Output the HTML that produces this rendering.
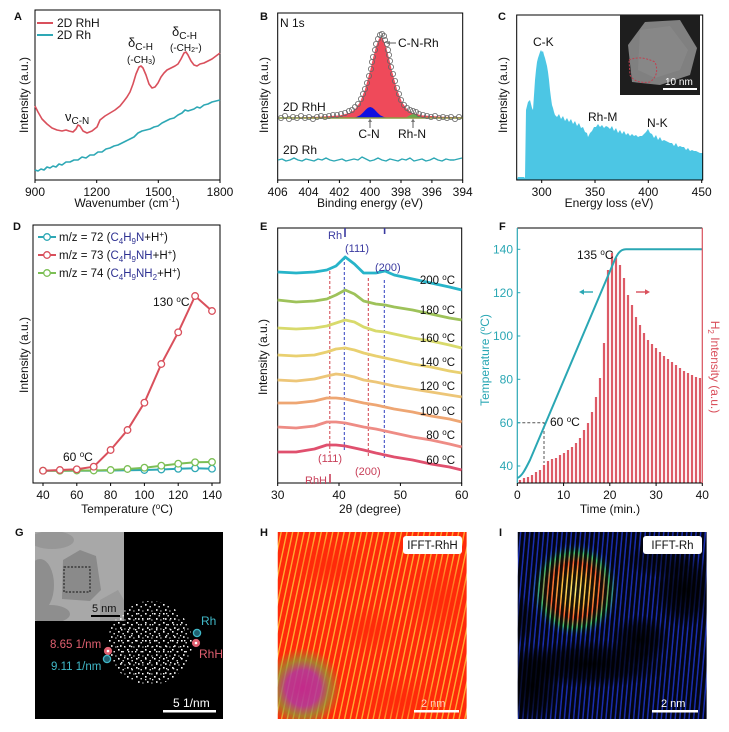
<!DOCTYPE html>
<html><head><meta charset="utf-8">
<style>
html,body{margin:0;padding:0;background:#fff;}
svg{display:block;}
text{font-family:"Liberation Sans",Arial,sans-serif;fill:#111;}
</style></head><body>
<svg width="729" height="732" viewBox="0 0 729 732" xmlns="http://www.w3.org/2000/svg">
<defs>
  <clipPath id="clipG"><rect x="35" y="532" width="89" height="89"/></clipPath>
  <clipPath id="clipH"><rect x="277.7" y="532" width="189" height="187"/></clipPath>
  <clipPath id="clipI"><rect x="517.7" y="532" width="189" height="187"/></clipPath>
  <pattern id="dots" patternUnits="userSpaceOnUse" width="9" height="9">
    <rect x="1" y="1" width="1.6" height="1.6" fill="#fff"/>
    <rect x="5.5" y="3" width="1.4" height="1.4" fill="#eee"/>
    <rect x="3" y="6.2" width="1.6" height="1.6" fill="#fff"/>
    <rect x="7.3" y="7.4" width="1.2" height="1.2" fill="#ddd"/>
  </pattern>
  <pattern id="dots2" patternUnits="userSpaceOnUse" width="7" height="11">
    <rect x="2" y="2" width="1.4" height="1.4" fill="#fff"/>
    <rect x="5" y="8" width="1.3" height="1.3" fill="#eee"/>
  </pattern>
  <pattern id="hstripe" patternUnits="userSpaceOnUse" width="5.6" height="60" patternTransform="rotate(12)">
    <rect x="0" y="0" width="4.2" height="60" fill="#ff2a0a"/>
  </pattern>
  <pattern id="istripe" patternUnits="userSpaceOnUse" width="4.6" height="60" patternTransform="rotate(5)">
    <rect x="0" y="0" width="3.1" height="60" fill="#000" fill-opacity="0.9"/>
  </pattern>
  <radialGradient id="redfade"><stop offset="0" stop-color="#ff2a0a" stop-opacity="0.7"/><stop offset="1" stop-color="#ff2a0a" stop-opacity="0"/></radialGradient>
  <radialGradient id="olive"><stop offset="0" stop-color="#c02a90" stop-opacity="0.95"/><stop offset="0.45" stop-color="#b03aa0" stop-opacity="0.85"/><stop offset="0.7" stop-color="#8a9a38" stop-opacity="0.7"/><stop offset="1" stop-color="#8a9a38" stop-opacity="0"/></radialGradient>
  <radialGradient id="blob"><stop offset="0" stop-color="#fff27a"/><stop offset="0.3" stop-color="#ffc040"/><stop offset="0.55" stop-color="#ff6030"/><stop offset="0.75" stop-color="#40c070"/><stop offset="0.9" stop-color="#2a50d0" stop-opacity="0.6"/><stop offset="1" stop-color="#1830b8" stop-opacity="0"/></radialGradient>
  <radialGradient id="dk"><stop offset="0" stop-color="#000" stop-opacity="0.92"/><stop offset="0.6" stop-color="#000" stop-opacity="0.6"/><stop offset="1" stop-color="#000" stop-opacity="0"/></radialGradient>
</defs>

<!-- ================= PANEL A ================= -->
<text x="14" y="20" font-size="11" font-weight="bold">A</text>
<rect x="35" y="10" width="185" height="170" fill="none" stroke="#000" stroke-width="1"/>
<g stroke="#000" stroke-width="1">
  <line x1="35" y1="180" x2="35" y2="183"/><line x1="96.7" y1="180" x2="96.7" y2="183"/>
  <line x1="158.3" y1="180" x2="158.3" y2="183"/><line x1="220" y1="180" x2="220" y2="183"/>
</g>
<g font-size="12" text-anchor="middle">
  <text x="35" y="196">900</text><text x="96.7" y="196">1200</text><text x="158.3" y="196">1500</text><text x="220" y="196">1800</text>
</g>
<text x="127" y="207" font-size="12" text-anchor="middle">Wavenumber (cm<tspan font-size="8" dy="-5">-1</tspan><tspan dy="5">)</tspan></text>
<text transform="translate(28,95) rotate(-90)" font-size="12" text-anchor="middle">Intensity (a.u.)</text>
<polyline fill="none" stroke="#2ea8b5" stroke-width="1.6" stroke-linejoin="round" points="35,170 38,171 41,169 44,170 47,167 50,168 53,166 56,167 59,164 62,165 66,162 70,162 74,160 78,160 82,157 86,158 90,155 94,155 98,152 102,152 106,149 110,148 114,146 118,145 122,143 126,141 130,139 134,137 138,133 142,131 146,130 150,129 154,127 158,126 162,123 166,121 170,119 174,118 178,115 182,113 185,110 188,111 191,110 194,109 197,107 200,108 204,105 208,104 212,102 216,101 220,100"/>
<polyline fill="none" stroke="#d9505c" stroke-width="1.6" stroke-linejoin="round" points="35,106 38,112 42,119 47,124 52,128 57,130 62,131 66,130 69,131 73,132 76,129 78,125 80,126 83,131 87,133 92,131 97,127 100,120 105,116 110,113 115,110 120,106 124,101 127,97 130,92 133,84 136,74 139,67 141,66 143,68 146,75 149,84 152,88 155,87 158,83 161,77 164,73 167,70 171,68 175,66 178,64 181,59 184,53 186,52 188,55 191,61 194,65 197,66 200,64 204,63 208,61 212,59 216,56 220,53"/>
<line x1="37" y1="23" x2="53" y2="23" stroke="#d9505c" stroke-width="2"/>
<text x="57" y="27" font-size="12">2D RhH</text>
<line x1="37" y1="35" x2="53" y2="35" stroke="#2ea8b5" stroke-width="2"/>
<text x="57" y="39" font-size="12">2D Rh</text>
<text x="65" y="121" font-size="13">ν<tspan font-size="10" dy="3">C-N</tspan></text>
<text x="128" y="47" font-size="13">δ<tspan font-size="10" dy="3">C-H</tspan></text>
<text x="127" y="63" font-size="10">(-CH<tspan font-size="7" dy="1">3</tspan><tspan dy="-1">)</tspan></text>
<text x="172" y="36" font-size="13">δ<tspan font-size="10" dy="3">C-H</tspan></text>
<text x="170" y="51" font-size="10">(-CH<tspan font-size="7" dy="1">2</tspan><tspan dy="-1">-)</tspan></text>

<!-- ================= PANEL B ================= -->
<text x="260" y="20" font-size="11" font-weight="bold">B</text>
<rect x="277.7" y="13" width="185" height="167" fill="none" stroke="#000" stroke-width="1"/>
<g stroke="#000" stroke-width="1">
  <line x1="277.7" y1="180" x2="277.7" y2="183"/><line x1="308.5" y1="180" x2="308.5" y2="183"/>
  <line x1="339.4" y1="180" x2="339.4" y2="183"/><line x1="370.2" y1="180" x2="370.2" y2="183"/>
  <line x1="401" y1="180" x2="401" y2="183"/><line x1="431.9" y1="180" x2="431.9" y2="183"/>
  <line x1="462.7" y1="180" x2="462.7" y2="183"/>
</g>
<g font-size="12" text-anchor="middle">
  <text x="277.7" y="196">406</text><text x="308.5" y="196">404</text><text x="339.4" y="196">402</text>
  <text x="370.2" y="196">400</text><text x="401" y="196">398</text><text x="431.9" y="196">396</text><text x="462.7" y="196">394</text>
</g>
<text x="370" y="207" font-size="12" text-anchor="middle">Binding energy (eV)</text>
<text transform="translate(268,95) rotate(-90)" font-size="12" text-anchor="middle">Intensity (a.u.)</text>
<polygon fill="#ef4a5a" points="277.7,118 278,117.6 300,117.3 320,116.8 340,115.4 350,112.8 355,109.3 360,102.2 365,89.5 370,71 373,58.2 376,46.6 379,38.7 381,37 383,38.7 386,46.6 389,58.2 392,71 397,89.5 402,102.2 407,109.3 412,112.8 422,115.4 442,116.8 462,117.3 462.7,118"/>
<polygon fill="#1010e0" points="350,118 352,117.9 356,117.3 360,115.4 363,112.6 366,109.4 368,107.7 370.2,107 372.4,107.7 374.4,109.4 377.4,112.6 380.4,115.4 384.4,117.3 388.4,117.9 390,118"/>
<polygon fill="#6aa84f" points="403,118 406,117.5 409,115.7 411,114.6 413.4,114 415.8,114.6 417.8,115.7 420.8,117.5 424,118"/>
<line x1="278" y1="118" x2="462.5" y2="118" stroke="#8c9a40" stroke-width="1.6"/>
<g fill="none" stroke="#666" stroke-width="0.8">
<circle cx="281" cy="118" r="2.6"/><circle cx="285" cy="116" r="2.6"/><circle cx="289" cy="119" r="2.6"/><circle cx="293" cy="117" r="2.6"/><circle cx="297" cy="118" r="2.6"/><circle cx="301" cy="116" r="2.6"/><circle cx="305" cy="118" r="2.6"/><circle cx="309" cy="117" r="2.6"/><circle cx="313" cy="119" r="2.6"/><circle cx="317" cy="117" r="2.6"/><circle cx="321" cy="116" r="2.6"/><circle cx="325" cy="117" r="2.6"/><circle cx="329" cy="116" r="2.6"/><circle cx="333" cy="115" r="2.6"/><circle cx="337" cy="115" r="2.6"/><circle cx="341" cy="114" r="2.6"/><circle cx="345" cy="113" r="2.6"/><circle cx="349" cy="111" r="2.6"/><circle cx="352" cy="110" r="2.6"/><circle cx="355" cy="107" r="2.6"/><circle cx="358" cy="104" r="2.6"/><circle cx="361" cy="99" r="2.6"/><circle cx="363" cy="94" r="2.6"/><circle cx="365" cy="89" r="2.6"/><circle cx="367" cy="83" r="2.6"/><circle cx="369" cy="76" r="2.6"/><circle cx="371" cy="69" r="2.6"/><circle cx="372" cy="62" r="2.6"/><circle cx="373" cy="57" r="2.6"/><circle cx="375" cy="50" r="2.6"/><circle cx="376" cy="44" r="2.6"/><circle cx="378" cy="39" r="2.6"/><circle cx="380" cy="35" r="2.6"/><circle cx="382" cy="34" r="2.6"/><circle cx="384" cy="36" r="2.6"/><circle cx="385" cy="40" r="2.6"/><circle cx="387" cy="44" r="2.6"/><circle cx="388" cy="50" r="2.6"/><circle cx="389" cy="55" r="2.6"/><circle cx="390" cy="61" r="2.6"/><circle cx="391" cy="67" r="2.6"/><circle cx="393" cy="74" r="2.6"/><circle cx="395" cy="81" r="2.6"/><circle cx="397" cy="88" r="2.6"/><circle cx="399" cy="94" r="2.6"/><circle cx="401" cy="100" r="2.6"/><circle cx="404" cy="105" r="2.6"/><circle cx="407" cy="108" r="2.6"/><circle cx="410" cy="110" r="2.6"/><circle cx="413" cy="111" r="2.6"/><circle cx="416" cy="112" r="2.6"/><circle cx="419" cy="114" r="2.6"/><circle cx="423" cy="115" r="2.6"/><circle cx="427" cy="116" r="2.6"/><circle cx="431" cy="117" r="2.6"/><circle cx="435" cy="116" r="2.6"/><circle cx="439" cy="118" r="2.6"/><circle cx="443" cy="117" r="2.6"/><circle cx="447" cy="118" r="2.6"/><circle cx="451" cy="117" r="2.6"/><circle cx="455" cy="119" r="2.6"/><circle cx="459" cy="117" r="2.6"/>
</g>
<polyline fill="none" stroke="#2ea8b5" stroke-width="1.4" stroke-linejoin="round" points="278,160 282,159 286,161 290,160 294,158 298,160 302,161 306,159 310,160 314,161 318,159 322,160 326,158 330,160 334,161 338,160 342,159 346,161 350,160 354,159 358,160 362,157 366,159 370,161 374,160 378,158 382,160 386,161 390,159 394,160 398,161 402,159 406,160 410,158 414,161 418,160 422,159 426,161 430,160 434,158 438,160 442,161 446,159 450,160 454,160 458,159 462,158"/>
<text x="280" y="27" font-size="12">N 1s</text>
<text x="283" y="111" font-size="12">2D RhH</text>
<text x="283" y="154" font-size="12">2D Rh</text>
<line x1="389" y1="43" x2="396" y2="43" stroke="#777" stroke-width="1.2"/><polygon points="386,43 390,41 390,45" fill="#777"/>
<text x="398" y="47" font-size="12">C-N-Rh</text>
<line x1="370" y1="121" x2="370" y2="128" stroke="#777" stroke-width="1.2"/><polygon points="370,118.5 368,122 372,122" fill="#777"/>
<text x="369" y="138" font-size="12" text-anchor="middle">C-N</text>
<line x1="413" y1="121" x2="413" y2="128" stroke="#777" stroke-width="1.2"/><polygon points="413,118.5 411,122 415,122" fill="#777"/>
<text x="412" y="138" font-size="12" text-anchor="middle">Rh-N</text>

<!-- ================= PANEL C ================= -->
<text x="498" y="20" font-size="11" font-weight="bold">C</text>
<polygon fill="#4cc6e4" points="516.7,180 518,177 524,177 525,178 526,110 528,102 530,100 531,104 532,108 533,110 534,95 535,80 536,70 537,62 538,58 539,55 540,52 541,50 542,52 543,51 544,55 545,58 546,62 547,66 548,72 549,80 550,90 551,98 552,105 553,108 554,112 555,115 557,117 559,114 561,119 563,116 565,121 567,118 569,122 571,119 573,124 575,121 577,126 579,123 581,128 583,127 585,132 587,133 588,137 590,133 592,131 594,127 596,127 598,124 600,127 602,125 604,128 606,126 608,127 610,129 612,126 614,131 616,128 618,133 620,130 622,134 624,131 626,135 628,133 630,136 632,134 634,136 636,135 638,137 640,136 642,136 644,134 646,132 648,129 650,133 652,134 654,138 656,135 658,140 660,137 662,141 664,140 666,141 668,142 670,143 672,143 674,146 676,143 678,147 680,146 682,147 684,147 686,150 688,148 690,151 692,150 694,151 696,151 698,152 700,153 702.7,153 702.7,180"/>
<rect x="516.7" y="15" width="186" height="165" fill="none" stroke="#000" stroke-width="1"/>
<g stroke="#000" stroke-width="1">
  <line x1="541.7" y1="180" x2="541.7" y2="183"/><line x1="595" y1="180" x2="595" y2="183"/>
  <line x1="648.3" y1="180" x2="648.3" y2="183"/><line x1="701.7" y1="180" x2="701.7" y2="183"/>
</g>
<g font-size="12" text-anchor="middle">
  <text x="541.7" y="196">300</text><text x="595" y="196">350</text><text x="648.3" y="196">400</text><text x="701.7" y="196">450</text>
</g>
<text x="609" y="207" font-size="12" text-anchor="middle">Energy loss (eV)</text>
<text transform="translate(507,95) rotate(-90)" font-size="12" text-anchor="middle">Intensity (a.u.)</text>
<text x="533" y="46" font-size="12">C-K</text>
<text x="588" y="121" font-size="12">Rh-M</text>
<text x="647" y="127" font-size="12">N-K</text>
<rect x="620" y="15" width="80" height="80" fill="#1e1e1e"/>
<polygon points="628,45 645,22 680,20 697,48 690,75 660,85 632,82" fill="#808080"/>
<polygon points="640,30 670,26 688,50 680,70 655,78 638,70" fill="#8c8c8c" opacity="0.6"/>
<path d="M629,60 Q640,55 655,62 Q660,75 650,82 Q635,84 630,75 Z" fill="none" stroke="#c04050" stroke-width="1" stroke-dasharray="2,1.5"/>
<text x="665" y="85" font-size="10" style="fill:#fff">10 nm</text>
<rect x="663" y="88" width="34" height="2" fill="#fff"/>

<!-- ================= PANEL D ================= -->
<text x="13" y="230" font-size="11" font-weight="bold">D</text>
<rect x="33" y="225" width="187" height="258" fill="none" stroke="#000" stroke-width="1"/>
<g stroke="#000" stroke-width="1">
  <line x1="43" y1="483" x2="43" y2="486"/><line x1="76.8" y1="483" x2="76.8" y2="486"/><line x1="110.6" y1="483" x2="110.6" y2="486"/>
  <line x1="144.4" y1="483" x2="144.4" y2="486"/><line x1="178.2" y1="483" x2="178.2" y2="486"/><line x1="212" y1="483" x2="212" y2="486"/>
</g>
<g font-size="12" text-anchor="middle">
  <text x="43" y="499">40</text><text x="76.8" y="499">60</text><text x="110.6" y="499">80</text>
  <text x="144.4" y="499">100</text><text x="178.2" y="499">120</text><text x="212" y="499">140</text>
</g>
<text x="127" y="513" font-size="12" text-anchor="middle">Temperature (<tspan font-size="8" dy="-4">o</tspan><tspan dy="4">C)</tspan></text>
<text transform="translate(28,355) rotate(-90)" font-size="12" text-anchor="middle">Intensity (a.u.)</text>
<g fill="#fff" stroke-width="1.3">
  <polyline fill="none" stroke="#2ea8b5" stroke-width="2" points="43,470.7 59.9,470.7 76.8,470.7 93.7,470.7 110.6,470.5 127.5,470.2 144.4,470 161.3,469.5 178.2,468.8 195.1,468.3 212,468.7"/>
  <polyline fill="none" stroke="#7cbf55" stroke-width="2" points="43,470.7 59.9,470.7 76.8,470.5 93.7,470.5 110.6,470 127.5,469 144.4,467.7 161.3,465.7 178.2,463.7 195.1,462.3 212,462"/>
  <g stroke="#2ea8b5"><circle cx="161.3" cy="469.5" r="3.3"/><circle cx="178.2" cy="468.8" r="3.3"/><circle cx="195.1" cy="468.3" r="3.3"/><circle cx="212" cy="468.7" r="3.3"/><circle cx="144.4" cy="470" r="3.3"/></g>
  <g stroke="#7cbf55"><circle cx="43" cy="470.7" r="3.3"/><circle cx="59.9" cy="470.7" r="3.3"/><circle cx="76.8" cy="470.5" r="3.3"/><circle cx="93.7" cy="470.5" r="3.3"/><circle cx="110.6" cy="470" r="3.3"/><circle cx="127.5" cy="469" r="3.3"/><circle cx="144.4" cy="467.7" r="3.3"/><circle cx="161.3" cy="465.7" r="3.3"/><circle cx="178.2" cy="463.7" r="3.3"/><circle cx="195.1" cy="462.3" r="3.3"/><circle cx="212" cy="462" r="3.3"/></g>
  <polyline fill="none" stroke="#d9505c" stroke-width="2" points="43,470.7 59.9,470 76.8,469.3 93.7,466.7 110.6,450 127.5,430 144.4,402.7 161.3,364 178.2,332.3 195.1,296 212,311"/>
  <g stroke="#d9505c"><circle cx="43" cy="470.7" r="3.3"/><circle cx="59.9" cy="470" r="3.3"/><circle cx="76.8" cy="469.3" r="3.3"/><circle cx="93.7" cy="466.7" r="3.3"/><circle cx="110.6" cy="450" r="3.3"/><circle cx="127.5" cy="430" r="3.3"/><circle cx="144.4" cy="402.7" r="3.3"/><circle cx="161.3" cy="364" r="3.3"/><circle cx="178.2" cy="332.3" r="3.3"/><circle cx="195.1" cy="296" r="3.3"/><circle cx="212" cy="311" r="3.3"/></g>
</g>
<g stroke-width="1.3">
  <line x1="38" y1="237" x2="56" y2="237" stroke="#2ea8b5" stroke-width="2"/><circle cx="47" cy="237" r="3.3" fill="#fff" stroke="#2ea8b5"/>
  <line x1="38" y1="255" x2="56" y2="255" stroke="#d9505c" stroke-width="2"/><circle cx="47" cy="255" r="3.3" fill="#fff" stroke="#d9505c"/>
  <line x1="38" y1="273" x2="56" y2="273" stroke="#7cbf55" stroke-width="2"/><circle cx="47" cy="273" r="3.3" fill="#fff" stroke="#7cbf55"/>
</g>
<text x="59" y="241" font-size="11.5">m/z = 72 (<tspan style="fill:#2e3192">C<tspan font-size="8" dy="3">4</tspan><tspan dy="-3">H</tspan><tspan font-size="8" dy="3">9</tspan><tspan dy="-3">N</tspan></tspan>+H<tspan font-size="8" dy="-4">+</tspan><tspan dy="4">)</tspan></text>
<text x="59" y="259" font-size="11.5">m/z = 73 (<tspan style="fill:#2e3192">C<tspan font-size="8" dy="3">4</tspan><tspan dy="-3">H</tspan><tspan font-size="8" dy="3">9</tspan><tspan dy="-3">NH</tspan></tspan>+H<tspan font-size="8" dy="-4">+</tspan><tspan dy="4">)</tspan></text>
<text x="59" y="277" font-size="11.5">m/z = 74 (<tspan style="fill:#2e3192">C<tspan font-size="8" dy="3">4</tspan><tspan dy="-3">H</tspan><tspan font-size="8" dy="3">9</tspan><tspan dy="-3">NH</tspan><tspan font-size="8" dy="3">2</tspan></tspan><tspan dy="-3">+H</tspan><tspan font-size="8" dy="-4">+</tspan><tspan dy="4">)</tspan></text>
<text x="153" y="306" font-size="12">130 <tspan font-size="8" dy="-4">o</tspan><tspan dy="4">C</tspan></text>
<text x="63" y="461" font-size="12">60 <tspan font-size="8" dy="-4">o</tspan><tspan dy="4">C</tspan></text>

<!-- ================= PANEL E ================= -->
<text x="260" y="230" font-size="11" font-weight="bold">E</text>
<rect x="277.7" y="228" width="184" height="255" fill="none" stroke="#000" stroke-width="1"/>
<g stroke="#000" stroke-width="1">
  <line x1="277.7" y1="483" x2="277.7" y2="486"/><line x1="339" y1="483" x2="339" y2="486"/>
  <line x1="400.4" y1="483" x2="400.4" y2="486"/><line x1="461.7" y1="483" x2="461.7" y2="486"/>
</g>
<g font-size="12" text-anchor="middle">
  <text x="277.7" y="499">30</text><text x="339" y="499">40</text><text x="400.4" y="499">50</text><text x="461.7" y="499">60</text>
</g>
<text x="370" y="513" font-size="12" text-anchor="middle">2θ (degree)</text>
<text transform="translate(267,357) rotate(-90)" font-size="12" text-anchor="middle">Intensity (a.u.)</text>
<g fill="none" stroke-width="1" stroke-dasharray="3,2">
  <line x1="329.8" y1="271" x2="329.8" y2="453" stroke="#d0404a"/>
  <line x1="368.3" y1="278" x2="368.3" y2="457" stroke="#d0404a"/>
  <line x1="344.3" y1="257" x2="344.3" y2="450" stroke="#3040c0"/>
  <line x1="384.3" y1="280" x2="384.3" y2="460" stroke="#3040c0"/>
</g>
<g fill="none" stroke-width="2.8" stroke-linejoin="round">
<polyline stroke="#e0506e" points="277.7,452 296.1,452 314.5,449 326.8,445 336,445 345.2,446 354.4,448 363.6,450 375.8,453 385,455 394.2,457 412.6,460 431,464 449.4,467 461.7,470"/>
<polyline stroke="#ee8c85" points="277.7,427 296.1,428 314.5,426 326.8,422 336,422 345.2,423 354.4,425 363.6,427 375.8,429 385,431 394.2,433 412.6,437 431,440 449.4,444 461.7,447"/>
<polyline stroke="#eea673" points="277.7,403 296.1,403 314.5,401 326.8,398 336,398 345.2,399 354.4,401 363.6,403 375.8,405 385,407 394.2,409 412.6,412 431,416 449.4,419 461.7,422"/>
<polyline stroke="#edc678" points="277.7,380 296.1,381 314.5,379 326.8,376 336,374 345.2,375 354.4,377 363.6,380 375.8,382 385,384 394.2,386 412.6,389 431,392 449.4,395 461.7,397"/>
<polyline stroke="#e9d070" points="277.7,355 296.1,356 314.5,355 326.8,352 336,349 345.2,348 354.4,350 363.6,353 375.8,356 385,358 394.2,360 412.6,364 431,367 449.4,371 461.7,373"/>
<polyline stroke="#d8da6c" points="277.7,328 296.1,329 314.5,328 326.8,326 336,323 345.2,320 354.4,322 363.6,327 375.8,331 385,332 394.2,334 412.6,338 431,341 449.4,345 461.7,348"/>
<polyline stroke="#9ec25a" points="277.7,300 296.1,302 314.5,301 326.8,299 336,295 345.2,290 354.4,294 363.6,301 375.8,304 385,305 394.2,307 412.6,310 431,314 449.4,318 461.7,320"/>
<polyline stroke="#27b4c9" points="277.7,272 296.1,273 314.5,272 326.8,270 336,266 345.2,257 354.4,264 363.6,273 375.8,273 385,271 394.2,275 412.6,279 431,283 449.4,287 461.7,290"/>
</g>
<line x1="345" y1="228" x2="345" y2="237" stroke="#3a3aa0" stroke-width="1.6"/>
<line x1="384.6" y1="228" x2="384.6" y2="234" stroke="#3a3aa0" stroke-width="1.6"/>
<text x="328" y="239" font-size="11" style="fill:#3a3aa0">Rh</text>
<text x="345" y="252" font-size="11" style="fill:#3a3aa0">(111)</text>
<text x="375" y="271" font-size="11" style="fill:#3a3aa0">(200)</text>
<text x="318" y="462" font-size="11" style="fill:#c8405a">(111)</text>
<text x="355" y="475" font-size="11" style="fill:#c8405a">(200)</text>
<text x="305" y="484" font-size="11" style="fill:#c8405a">RhH</text>
<line x1="330" y1="474" x2="330" y2="483" stroke="#c8405a" stroke-width="1.6"/>
<g font-size="11.5" text-anchor="end">
  <text x="455" y="284">200 <tspan font-size="8" dy="-4">o</tspan><tspan dy="4">C</tspan></text>
  <text x="455" y="314">180 <tspan font-size="8" dy="-4">o</tspan><tspan dy="4">C</tspan></text>
  <text x="455" y="342">160 <tspan font-size="8" dy="-4">o</tspan><tspan dy="4">C</tspan></text>
  <text x="455" y="366">140 <tspan font-size="8" dy="-4">o</tspan><tspan dy="4">C</tspan></text>
  <text x="455" y="390">120 <tspan font-size="8" dy="-4">o</tspan><tspan dy="4">C</tspan></text>
  <text x="455" y="415">100 <tspan font-size="8" dy="-4">o</tspan><tspan dy="4">C</tspan></text>
  <text x="455" y="439">80 <tspan font-size="8" dy="-4">o</tspan><tspan dy="4">C</tspan></text>
  <text x="455" y="464">60 <tspan font-size="8" dy="-4">o</tspan><tspan dy="4">C</tspan></text>
</g>

<!-- ================= PANEL F ================= -->
<text x="499" y="230" font-size="11" font-weight="bold">F</text>
<g fill="#dd5a66">
<rect x="518.9" y="480" width="2.2" height="3"/><rect x="522.9" y="478" width="2.2" height="5"/><rect x="526.9" y="477" width="2.2" height="6"/><rect x="530.9" y="475" width="2.2" height="8"/><rect x="534.9" y="472" width="2.2" height="11"/><rect x="538.9" y="470" width="2.2" height="13"/><rect x="542.9" y="465" width="2.2" height="18"/><rect x="546.9" y="461" width="2.2" height="22"/><rect x="550.9" y="459" width="2.2" height="24"/><rect x="554.9" y="458" width="2.2" height="25"/><rect x="558.9" y="455" width="2.2" height="28"/><rect x="562.9" y="453" width="2.2" height="30"/><rect x="566.9" y="450" width="2.2" height="33"/><rect x="570.9" y="447" width="2.2" height="36"/><rect x="574.9" y="443" width="2.2" height="40"/><rect x="578.9" y="438" width="2.2" height="45"/><rect x="582.9" y="430" width="2.2" height="53"/><rect x="586.9" y="423" width="2.2" height="60"/><rect x="590.9" y="412" width="2.2" height="71"/><rect x="594.9" y="397" width="2.2" height="86"/><rect x="598.9" y="378" width="2.2" height="105"/><rect x="602.9" y="343" width="2.2" height="140"/><rect x="606.9" y="270" width="2.2" height="213"/><rect x="610.9" y="253" width="2.2" height="230"/><rect x="614.9" y="258" width="2.2" height="225"/><rect x="618.9" y="265" width="2.2" height="218"/><rect x="622.9" y="278" width="2.2" height="205"/><rect x="626.9" y="295" width="2.2" height="188"/><rect x="630.9" y="305" width="2.2" height="178"/><rect x="634.9" y="317" width="2.2" height="166"/><rect x="638.9" y="325" width="2.2" height="158"/><rect x="642.9" y="333" width="2.2" height="150"/><rect x="646.9" y="340" width="2.2" height="143"/><rect x="650.9" y="344" width="2.2" height="139"/><rect x="654.9" y="348" width="2.2" height="135"/><rect x="658.9" y="352" width="2.2" height="131"/><rect x="662.9" y="356" width="2.2" height="127"/><rect x="666.9" y="359" width="2.2" height="124"/><rect x="670.9" y="362" width="2.2" height="121"/><rect x="674.9" y="365" width="2.2" height="118"/><rect x="678.9" y="368" width="2.2" height="115"/><rect x="682.9" y="371" width="2.2" height="112"/><rect x="686.9" y="373" width="2.2" height="110"/><rect x="690.9" y="375" width="2.2" height="108"/><rect x="694.9" y="377" width="2.2" height="106"/><rect x="698.9" y="378" width="2.2" height="105"/>
</g>
<path d="M517.3,422.7 H544 V463" fill="none" stroke="#555" stroke-width="1" stroke-dasharray="3,2"/>
<path d="M517.5,478 C522,476 525,470 530,460 L613,264 C617,254 620,249.3 626,249.3 L702,249.3" fill="none" stroke="#2aa7b4" stroke-width="2"/>
<line x1="517.3" y1="228" x2="702.3" y2="228" stroke="#000" stroke-width="1"/>
<line x1="517.3" y1="483" x2="702.3" y2="483" stroke="#000" stroke-width="1"/>
<line x1="517.3" y1="228" x2="517.3" y2="483" stroke="#2aa7b4" stroke-width="1.2"/>
<line x1="702.3" y1="228" x2="702.3" y2="483" stroke="#d9505c" stroke-width="1.2"/>
<g stroke="#2aa7b4" stroke-width="1">
  <line x1="517.3" y1="249.3" x2="520.3" y2="249.3"/><line x1="517.3" y1="292.7" x2="520.3" y2="292.7"/><line x1="517.3" y1="336" x2="520.3" y2="336"/>
  <line x1="517.3" y1="379.3" x2="520.3" y2="379.3"/><line x1="517.3" y1="422.7" x2="520.3" y2="422.7"/><line x1="517.3" y1="466" x2="520.3" y2="466"/>
</g>
<g font-size="12" text-anchor="end">
  <text x="513" y="253.5" style="fill:#2aa7b4">140</text><text x="513" y="297" style="fill:#2aa7b4">120</text><text x="513" y="340" style="fill:#2aa7b4">100</text>
  <text x="513" y="383.5" style="fill:#2aa7b4">80</text><text x="513" y="427" style="fill:#2aa7b4">60</text><text x="513" y="470" style="fill:#2aa7b4">40</text>
</g>
<g stroke="#000" stroke-width="1">
  <line x1="517.3" y1="483" x2="517.3" y2="486"/><line x1="563.6" y1="483" x2="563.6" y2="486"/><line x1="609.8" y1="483" x2="609.8" y2="486"/>
  <line x1="656.1" y1="483" x2="656.1" y2="486"/><line x1="702.3" y1="483" x2="702.3" y2="486"/>
</g>
<g font-size="12" text-anchor="middle">
  <text x="517.3" y="499">0</text><text x="563.6" y="499">10</text><text x="609.8" y="499">20</text><text x="656.1" y="499">30</text><text x="702.3" y="499">40</text>
</g>
<text x="610" y="513" font-size="12" text-anchor="middle">Time (min.)</text>
<text transform="translate(489,360) rotate(-90)" font-size="12" text-anchor="middle" style="fill:#2aa7b4">Temperature (<tspan font-size="8" dy="-4">o</tspan><tspan dy="4">C)</tspan></text>
<text transform="translate(711,367) rotate(90)" font-size="12" text-anchor="middle" style="fill:#d9505c">H<tspan font-size="8" dy="3">2</tspan><tspan dy="-3"> Intensity (a.u.)</tspan></text>
<text x="577" y="259" font-size="12">135 <tspan font-size="8" dy="-4">o</tspan><tspan dy="4">C</tspan></text>
<text x="550" y="426" font-size="12">60 <tspan font-size="8" dy="-4">o</tspan><tspan dy="4">C</tspan></text>
<line x1="583" y1="292" x2="593" y2="292" stroke="#2aa7b4" stroke-width="1.4"/><polygon points="579,292 584,289.3 584,294.7" fill="#2aa7b4"/>
<line x1="636" y1="292" x2="645" y2="292" stroke="#d9505c" stroke-width="1.4"/><polygon points="650,292 645,289.3 645,294.7" fill="#d9505c"/>

<!-- ================= PANEL G ================= -->
<text x="15" y="536" font-size="11" font-weight="bold">G</text>
<rect x="35" y="532" width="188" height="187" fill="#000"/>
<g clip-path="url(#clipG)">
<rect x="35" y="532" width="89" height="89" fill="#a8a8a8"/>
<ellipse cx="40" cy="585" rx="14" ry="26" fill="#8e8e8e"/>
<ellipse cx="52" cy="540" rx="22" ry="9" fill="#979797"/>
<ellipse cx="50" cy="614" rx="20" ry="9" fill="#8e8e8e"/>
<polygon points="63,560 80,550 96,556 101,590 90,601 62,599" fill="#8a8a8a"/>
<polygon points="100,600 118,590 124,600 124,621 100,621" fill="#9a9a9a"/>
</g>
<rect x="64" y="567" width="26" height="25" fill="none" stroke="#111" stroke-width="1" stroke-dasharray="2,1.5"/>
<text x="92" y="612" font-size="11">5 nm</text>
<rect x="91" y="615" width="29" height="2" fill="#000"/>
<circle cx="150" cy="643" r="42" fill="url(#dots)"/>
<circle cx="152" cy="645" r="36" fill="url(#dots2)"/>
<text x="201" y="625" font-size="12" style="fill:#40b8c8">Rh</text>
<text x="199" y="658" font-size="12" style="fill:#e06070">RhH</text>
<text x="50" y="648" font-size="11.5" style="fill:#e06070">8.65 1/nm</text>
<text x="51" y="670" font-size="11.5" style="fill:#40b8c8">9.11 1/nm</text>
<circle cx="197" cy="633" r="3.6" fill="#206070" stroke="#40b8c8" stroke-width="1.3"/>
<circle cx="196" cy="643" r="3.6" fill="#e06070" stroke="#e06070" stroke-width="1"/><circle cx="196" cy="643" r="1.3" fill="#fff"/>
<circle cx="108" cy="651" r="3.6" fill="#e06070" stroke="#e06070" stroke-width="1"/><circle cx="108" cy="651" r="1.3" fill="#fff"/>
<circle cx="107" cy="659" r="3.6" fill="#206070" stroke="#40b8c8" stroke-width="1.3"/>
<text x="173" y="707" font-size="12" style="fill:#fff">5 1/nm</text>
<rect x="163" y="710" width="53" height="2.5" fill="#fff"/>

<!-- ================= PANEL H ================= -->
<text x="260" y="536" font-size="11" font-weight="bold">H</text>
<g clip-path="url(#clipH)">
<rect x="277.7" y="532" width="189" height="187" fill="#ffa832"/>
<rect x="277.7" y="532" width="189" height="187" fill="url(#hstripe)"/>
<ellipse cx="330" cy="565" rx="40" ry="28" fill="url(#redfade)"/>
<ellipse cx="440" cy="600" rx="35" ry="45" fill="url(#redfade)"/>
<ellipse cx="400" cy="700" rx="45" ry="25" fill="url(#redfade)"/>
<ellipse cx="370" cy="630" rx="30" ry="25" fill="url(#redfade)"/>
<ellipse cx="303" cy="688" rx="38" ry="40" fill="url(#olive)"/>
</g>
<rect x="403" y="536" width="59" height="18" rx="3" fill="#fff"/>
<text x="432.5" y="549" font-size="11.5" text-anchor="middle">IFFT-RhH</text>
<text x="421" y="707" font-size="11" style="fill:#ffd0c0">2 nm</text>
<rect x="414" y="710" width="45" height="2.5" fill="#fff"/>

<!-- ================= PANEL I ================= -->
<text x="499" y="536" font-size="11" font-weight="bold">I</text>
<g clip-path="url(#clipI)">
<rect x="517.7" y="532" width="189" height="187" fill="#1a2eb0"/>
<ellipse cx="590" cy="664" rx="80" ry="24" fill="url(#dk)"/>
<ellipse cx="532" cy="685" rx="30" ry="42" fill="url(#dk)"/>
<ellipse cx="685" cy="590" rx="32" ry="38" fill="url(#dk)"/>
<ellipse cx="640" cy="640" rx="30" ry="25" fill="url(#dk)"/>
<ellipse cx="660" cy="560" rx="35" ry="18" fill="url(#dk)" opacity="0.6"/>
<ellipse cx="520" cy="620" rx="15" ry="25" fill="url(#dk)" opacity="0.7"/>
<ellipse cx="575" cy="590" rx="47" ry="50" fill="url(#blob)"/>
<rect x="517.7" y="532" width="189" height="187" fill="url(#istripe)"/>
</g>
<rect x="643" y="536" width="59" height="18" rx="3" fill="#fff"/>
<text x="672.5" y="549" font-size="11.5" text-anchor="middle">IFFT-Rh</text>
<text x="661" y="707" font-size="11" style="fill:#fff">2 nm</text>
<rect x="652" y="710" width="46" height="2.5" fill="#fff"/>
</svg>
</body></html>
